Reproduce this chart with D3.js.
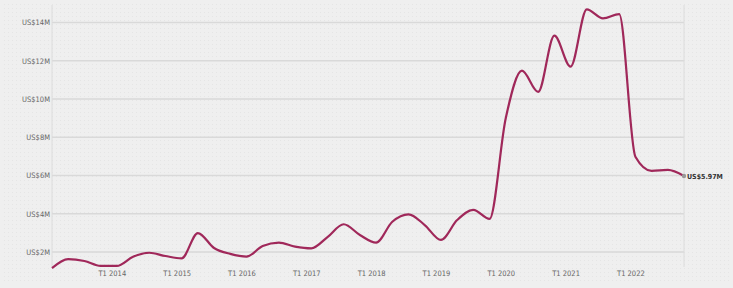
<!DOCTYPE html>
<html>
<head>
<meta charset="utf-8">
<script src="https://cdn.jsdelivr.net/npm/d3@7"></script>
<style>
    body { margin: 0; background: #efefef; }
    svg { display: block; }
</style>
</head>
<body>
<svg id="chart" width="733" height="288"></svg>
<script>
// quarterly values, US$ millions, Q1 2013 .. Q4 2022
const quarters = d3.range(40).map(i => ({year: 2013 + Math.floor(i / 4), q: (i % 4) + 1}));
const values = [
    1.16, 1.63, 1.53, 1.27,
    1.27, 1.75, 1.96, 1.79,
    1.67, 2.99, 2.21, 1.90,
    1.76, 2.31, 2.49, 2.28,
    2.19, 2.78, 3.45, 2.89,
    2.49, 3.58, 3.97, 3.41,
    2.63, 3.67, 4.20, 3.73,
    8.99, 11.48, 10.37, 13.31,
    11.69, 14.69, 14.22, 14.44,
    6.98, 6.24, 6.29, 5.97
];
const yTicks = [2, 4, 6, 8, 10, 12, 14];
const xTickYears = [2014, 2015, 2016, 2017, 2018, 2019, 2020, 2021, 2022];

const data = quarters.map((d, i) => ({key: `${d.year}-${d.q}`, year: d.year, q: d.q, value: values[i]}));

const svg = d3.select('#chart');
const margin = {top: 5, right: 49, bottom: 21, left: 52};
const width = 733 - margin.left - margin.right;
const height = 288 - margin.top - margin.bottom;
const font = '"DejaVu Sans Condensed", "Liberation Sans Narrow", sans-serif';

// dotted background texture
const defs = svg.append('defs');
defs.append('pattern')
    .attr('id', 'dots')
    .attr('width', 4)
    .attr('height', 4)
    .attr('patternUnits', 'userSpaceOnUse')
    .append('rect')
    .attr('width', 1)
    .attr('height', 1)
    .attr('fill', '#e5e5e5');

svg.append('rect')
    .attr('width', 733)
    .attr('height', 288)
    .attr('fill', '#efefef');
svg.append('rect')
    .attr('x', 4)
    .attr('y', 4)
    .attr('width', 725)
    .attr('height', 280)
    .attr('fill', 'url(#dots)');

const g = svg.append('g')
    .attr('transform', `translate(${margin.left}, ${margin.top})`);

const x = d3.scalePoint()
    .domain(data.map(d => d.key))
    .range([0, width]);

const y = d3.scaleLinear()
    .domain([0, 14])
    .range([290.25 - margin.top, 22.5 - margin.top]);

//--------------------------------------------------GRID
g.append('g')
    .attr('class', 'grid')
    .selectAll('line')
    .data(yTicks)
    .enter().append('line')
    .attr('x1', 0)
    .attr('x2', width)
    .attr('y1', d => y(d))
    .attr('y2', d => y(d))
    .attr('stroke', '#d9d9d9')
    .attr('stroke-width', 1.5);

g.append('line')
    .attr('x1', 0).attr('x2', 0)
    .attr('y1', 0).attr('y2', height)
    .attr('stroke', '#dcdcdc')
    .attr('stroke-width', 1);

g.append('line')
    .attr('x1', width).attr('x2', width)
    .attr('y1', 0).attr('y2', height)
    .attr('stroke', '#dcdcdc')
    .attr('stroke-width', 1);

//--------------------------------------------------AXES
g.append('g')
    .attr('class', 'y-axis')
    .call(d3.axisLeft(y).tickValues(yTicks).tickSize(0).tickPadding(2).tickFormat(d => `US$${d}M`));

const xAxis = g.append('g')
    .attr('class', 'x-axis')
    .attr('transform', `translate(0, ${height})`)
    .call(d3.axisBottom(x)
        .tickValues(xTickYears.map(yr => `${yr}-1`))
        .tickSize(0)
        .tickPadding(4)
        .tickFormat(k => `T1 ${k.split('-')[0]}`));

xAxis.selectAll('text').attr('dx', -5);

g.selectAll('.domain').remove();
g.selectAll('.tick text')
    .style('font-family', font)
    .style('font-size', '7.5px')
    .style('fill', '#666');

//--------------------------------------------------LINE
const line = d3.line()
    .x(d => x(d.key))
    .y(d => y(d.value))
    .curve(d3.curveMonotoneX);

g.append('path')
    .datum(data)
    .attr('d', line)
    .attr('fill', 'none')
    .attr('stroke', '#a0285a')
    .attr('stroke-width', 2.2)
    .attr('stroke-linejoin', 'round');

const last = data[data.length - 1];

g.append('circle')
    .attr('cx', x(last.key))
    .attr('cy', y(last.value))
    .attr('r', 2.2)
    .attr('fill', '#999');

g.append('text')
    .text(`US$${last.value}M`)
    .attr('x', x(last.key) + 3)
    .attr('y', y(last.value))
    .attr('dy', '0.35em')
    .style('font-family', font)
    .style('font-size', '7px')
    .style('font-weight', 'bold')
    .style('fill', '#333');
</script>
</body>
</html>
